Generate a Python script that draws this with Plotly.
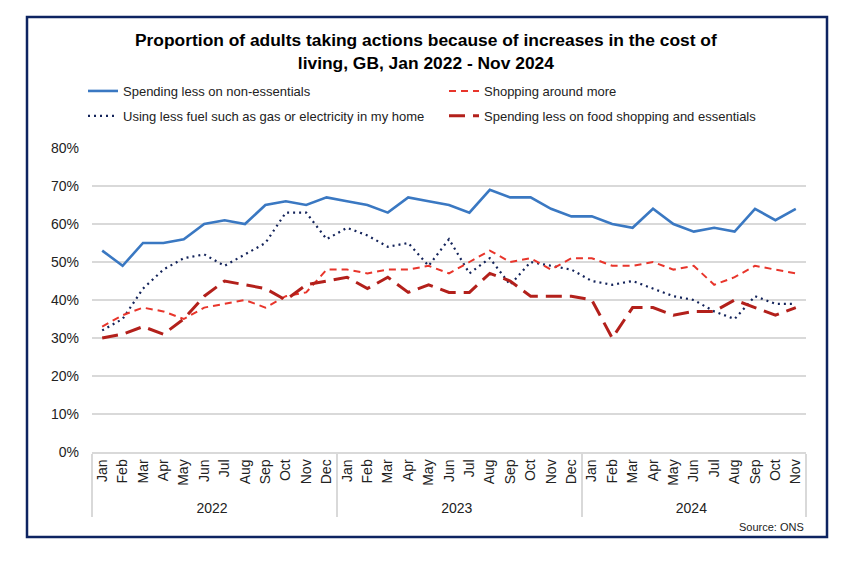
import plotly.graph_objects as go

months = ["Jan","Feb","Mar","Apr","May","Jun","Jul","Aug","Sep","Oct","Nov","Dec"]
years = ["2022"]*12 + ["2023"]*12 + ["2024"]*11
month_labels = months*2 + months[:11]

non_essentials = [53,49,55,55,56,60,61,60,65,66,65,67,
                  66,65,63,67,66,65,63,69,67,67,64,62,
                  62,60,59,64,60,58,59,58,64,61,64]
shopping_around = [33,36,38,37,35,38,39,40,38,41,42,48,
                   48,47,48,48,49,47,50,53,50,51,48,51,
                   51,49,49,50,48,49,44,46,49,48,47]
less_fuel = [32,35,43,48,51,52,49,52,55,63,63,56,
             59,57,54,55,49,56,47,51,44,50,49,48,
             45,44,45,43,41,40,37,35,41,39,39]
less_food = [30,31,33,31,35,41,45,44,43,40,44,45,
             46,43,46,42,44,42,42,47,45,41,41,41,
             40,30,38,38,36,37,37,40,38,36,38]

x = [years, month_labels]

fig = go.Figure()
fig.add_trace(go.Scatter(x=x, y=non_essentials, mode="lines", name="Spending less on non-essentials",
                         legend="legend", legendgroup="a",
                         line=dict(color="#3a78c2", width=2.6)))
fig.add_trace(go.Scatter(x=x, y=less_fuel, mode="lines", name="Using less fuel such as gas or electricity in my home",
                         legend="legend", legendgroup="b",
                         line=dict(color="#13235a", width=2.2, dash="2px,4px")))
fig.add_trace(go.Scatter(x=x, y=shopping_around, mode="lines", name="Shopping around more",
                         legend="legend2", legendgroup="c",
                         line=dict(color="#e8352b", width=2, dash="7px,5px")))
fig.add_trace(go.Scatter(x=x, y=less_food, mode="lines", name="Spending less on food shopping and essentials",
                         legend="legend2", legendgroup="d",
                         line=dict(color="#b3201b", width=3, dash="16px,8px")))

# page body offset of 8px is compensated: coordinates below are screen pixels
OFF = 8
SL, SR, ST, SB = 92, 806, 148, 452
L, T = SL - OFF, ST - OFF
R = 864 - (SR - OFF)
B = 562 - (SB - OFF)
PW, PH = SR - SL, SB - ST

def px(xs):
    return (xs - SL) / PW

def py(ys):
    return (SB - ys) / PH

legend_common = dict(orientation="v", xanchor="left", yanchor="top",
                     font=dict(size=13, color="#222222"), bgcolor="rgba(0,0,0,0)",
                     tracegroupgap=5, itemwidth=30)

fig.update_layout(
    width=864, height=562,
    margin=dict(l=L, r=R, t=T, b=B),
    paper_bgcolor="white", plot_bgcolor="white",
    font=dict(family="Liberation Sans, Arial, sans-serif", color="#222222", size=13),
    showlegend=True,
    legend=dict(x=px(83), y=py(76), **legend_common),
    legend2=dict(x=px(444), y=py(76), **legend_common),
    annotations=[
        dict(text="<b>Proportion of adults taking actions because of increases in the cost of<br>living, GB, Jan 2022 - Nov 2024</b>",
             x=px(426), y=py(51.5), xref="paper", yref="paper", xanchor="center", yanchor="middle",
             showarrow=False, font=dict(size=17.4, color="#000000")),
        dict(text="Source: ONS", x=px(806), y=py(527), xref="paper", yref="paper",
             xanchor="right", yanchor="middle", showarrow=False, font=dict(size=11, color="#222222")),
    ],
    shapes=[
        dict(type="rect", xref="paper", yref="paper", x0=px(27), x1=px(827), y0=py(537), y1=py(17),
             line=dict(color="#0d2461", width=2.5), fillcolor="rgba(0,0,0,0)", layer="below"),
    ],
)

fig.update_yaxes(range=[0, 80], dtick=10, ticksuffix="%", showgrid=True, gridcolor="#d9d9d9", gridwidth=1.5,
                 zeroline=False, showline=False, tickfont=dict(size=14, color="#222222"), ticks="",
                 ticklabelstandoff=12, fixedrange=True)
fig.update_xaxes(type="multicategory", range=[-0.5, 34.5], tickangle=-90,
                 tickfont=dict(size=14, color="#222222"),
                 showline=True, linecolor="#d9d9d9", linewidth=1.5, showgrid=False,
                 showdividers=True, dividercolor="#d9d9d9", dividerwidth=1.5, ticks="")

fig.write_html("out.html")
